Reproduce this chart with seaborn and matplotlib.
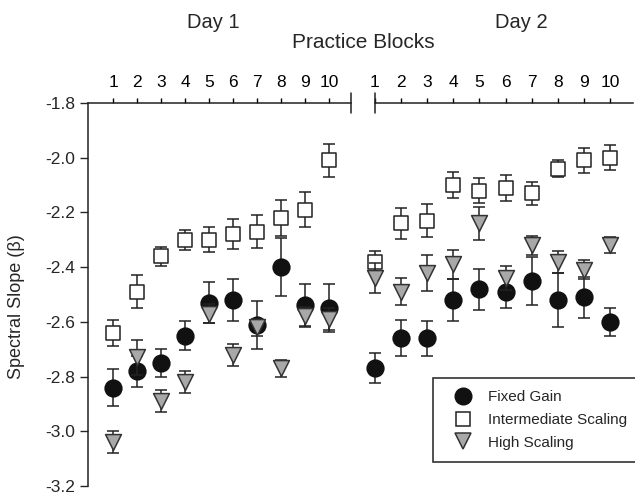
import numpy as np
import pandas as pd
import matplotlib
matplotlib.use("Agg")
import matplotlib.pyplot as plt
import seaborn as sns
from matplotlib.lines import Line2D

# datos
blocks = np.arange(1, 11)

day1_fixed = [-2.84, -2.78, -2.75, -2.65, -2.53, -2.52, -2.61, -2.40, -2.54, -2.55]
day1_fixed_err = [0.068, 0.057, 0.05, 0.054, 0.075, 0.077, 0.088, 0.105, 0.08, 0.088]
day1_inter = [-2.64, -2.49, -2.36, -2.30, -2.30, -2.28, -2.27, -2.22, -2.19, -2.01]
day1_inter_err = [0.048, 0.06, 0.035, 0.037, 0.045, 0.055, 0.06, 0.065, 0.064, 0.06]
day1_high = [-3.04, -2.73, -2.89, -2.82, -2.57, -2.72, -2.62, -2.77, -2.58, -2.59]
day1_high_err = [0.04, 0.063, 0.04, 0.04, 0.035, 0.04, 0.03, 0.03, 0.035, 0.04]

day2_fixed = [-2.77, -2.66, -2.66, -2.52, -2.48, -2.49, -2.45, -2.52, -2.51, -2.60]
day2_fixed_err = [0.055, 0.066, 0.064, 0.076, 0.075, 0.06, 0.088, 0.097, 0.075, 0.05]
day2_inter = [-2.38, -2.24, -2.23, -2.10, -2.12, -2.11, -2.13, -2.04, -2.01, -2.00]
day2_inter_err = [0.04, 0.056, 0.06, 0.048, 0.046, 0.047, 0.043, 0.032, 0.047, 0.045]
day2_high = [-2.44, -2.49, -2.42, -2.39, -2.24, -2.44, -2.32, -2.38, -2.41, -2.32]
day2_high_err = [0.055, 0.05, 0.066, 0.052, 0.06, 0.045, 0.035, 0.04, 0.035, 0.03]

groups = ["Fixed Gain", "Intermediate Scaling", "High Scaling"]
y_ticks = [-1.8, -2.0, -2.2, -2.4, -2.6, -2.8, -3.0, -3.2]

# estilo
sns.set_style("ticks")
plt.rcParams['font.family'] = ['Liberation Sans', 'DejaVu Sans']
plt.rcParams['axes.unicode_minus'] = False

dark = "#222222"
styles = {
    "Intermediate Scaling": dict(marker="s", s=115, color="white", edgecolor=dark, z=3),
    "Fixed Gain": dict(marker="o", s=145, color="#111111", edgecolor="#111111", z=4),
    "High Scaling": dict(marker="v", s=130, color="#a8a8a8", edgecolor="#333333", z=5),
}

fig = plt.figure(figsize=(6.35, 4.94), dpi=100)
ax1 = fig.add_axes([88 / 635, 8 / 494, 263 / 635, 383 / 494])
ax2 = fig.add_axes([375 / 635, 8 / 494, 258 / 635, 383 / 494])

day_data = [
    (ax1, {"Fixed Gain": (day1_fixed, day1_fixed_err),
           "Intermediate Scaling": (day1_inter, day1_inter_err),
           "High Scaling": (day1_high, day1_high_err)}),
    (ax2, {"Fixed Gain": (day2_fixed, day2_fixed_err),
           "Intermediate Scaling": (day2_inter, day2_inter_err),
           "High Scaling": (day2_high, day2_high_err)}),
]

for ax, data in day_data:
    for g in ["Intermediate Scaling", "Fixed Gain", "High Scaling"]:
        vals, errs = data[g]
        st = styles[g]
        eb = ax.errorbar(blocks, vals, yerr=errs, fmt="none", ecolor=dark,
                         elinewidth=1.1, capsize=4.6, capthick=1.1, zorder=st["z"] - 0.5)
        for art in eb.lines[1] + eb.lines[2]:
            art.set_clip_on(False)
        df = pd.DataFrame({"block": blocks, "valor": vals})
        sns.scatterplot(data=df, x="block", y="valor", ax=ax, marker=st["marker"],
                        s=st["s"], color=st["color"], edgecolor=st["edgecolor"],
                        linewidth=1.1, zorder=st["z"], legend=False, clip_on=False)
    ax.set_ylim(-3.2, -1.8)
    ax.set_xticks(blocks)
    ax.xaxis.tick_top()
    ax.tick_params(axis="x", direction="out", length=3.5, width=1, pad=6,
                   labelsize=12.5, colors="black")
    ax.set_xlabel("")
    ax.set_ylabel("")
    for sp in ["bottom", "right"]:
        ax.spines[sp].set_visible(False)
    ax.spines["top"].set_color(dark)
    ax.spines["top"].set_linewidth(1.1)

ax1.set_xlim(-0.042, 10.917)
ax2.set_xlim(1.0, 10.88)

ax1.set_yticks(y_ticks)
ax1.set_yticklabels([f"{v:.1f}" for v in y_ticks])
ax1.tick_params(axis="y", direction="out", length=6, width=1, pad=3, labelsize=12.5)
ax1.spines["left"].set_color(dark)
ax1.spines["left"].set_linewidth(1.1)

ax2.spines["left"].set_visible(False)
ax2.set_yticks([])

# marcas de corte del eje
ax1.plot([1, 1], [1.026, 0.975], transform=ax1.transAxes, color=dark, lw=1.1, clip_on=False)
ax2.plot([0, 0], [1.026, 0.975], transform=ax2.transAxes, color=dark, lw=1.1, clip_on=False)

fig.text(213 / 635, 1 - 23 / 494, "Day 1", ha="center", va="center", fontsize=14.5)
fig.text(521 / 635, 1 - 23 / 494, "Day 2", ha="center", va="center", fontsize=14.5)
fig.text(363 / 635, 1 - 43 / 494, "Practice Blocks", ha="center", va="center", fontsize=15)
fig.text(17 / 635, 1 - 307 / 494, "Spectral Slope (β)", ha="center", va="center",
         rotation=90, fontsize=13)

handles = [
    Line2D([], [], ls="none", marker="o", markersize=12, markerfacecolor="#111111",
           markeredgecolor="#111111"),
    Line2D([], [], ls="none", marker="s", markersize=10.5, markerfacecolor="white",
           markeredgecolor=dark, markeredgewidth=1.1),
    Line2D([], [], ls="none", marker="v", markersize=11.5, markerfacecolor="#a8a8a8",
           markeredgecolor="#333333", markeredgewidth=1.1),
]
# la leyenda queda cortada por el borde derecho, como en el original
leg = fig.legend(handles, groups, loc="lower left", bbox_to_anchor=(433 / 635, 32 / 494),
                 fontsize=11, frameon=True, fancybox=False, framealpha=1,
                 edgecolor=dark, borderpad=0.8, handlelength=2.33, handletextpad=0.47,
                 labelspacing=0.58, borderaxespad=0)
leg.get_frame().set_linewidth(1.1)

plt.savefig("out.png", dpi=100)
